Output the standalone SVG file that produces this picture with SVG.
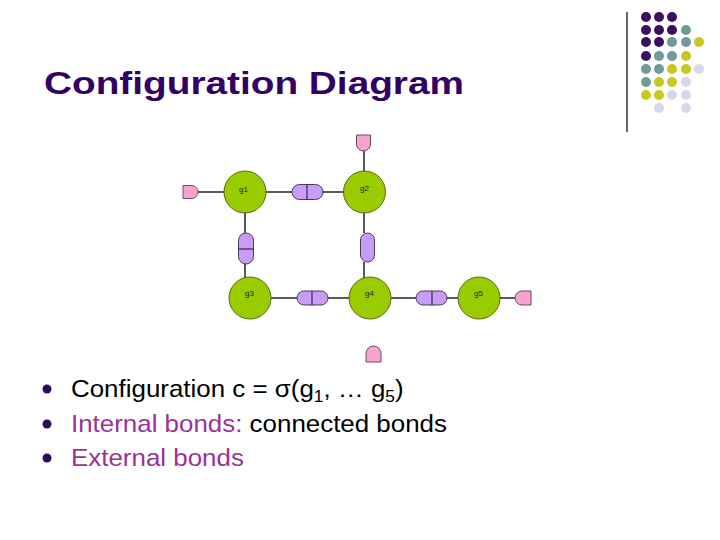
<svg xmlns="http://www.w3.org/2000/svg" width="720" height="540" viewBox="0 0 720 540">
<style>
.node{fill:#99cc00;stroke:#5a6a10;stroke-width:1}
.bond{fill:#c99cf7;stroke:#4a3a5a;stroke-width:1}
.ext{fill:#f7a3cf;stroke:#6a4a5a;stroke-width:1}
.lbl{font-family:"Liberation Sans",Arial,sans-serif;font-size:8px;fill:#222}
.conn line{stroke:#000;stroke-width:1.3}
.div{stroke:#3a2a4a;stroke-width:1.2}
.body{font-family:"Liberation Sans",Arial,sans-serif;font-size:24px;fill:#000}
.pur{fill:#993399}
.d1{fill:#3b1060}.d2{fill:#6e9a9a}.d3{fill:#c8c81e}.d4{fill:#d8d8ea}
</style>
<rect width="720" height="540" fill="#fff"/>
<g id="decor">
<line x1="627" y1="12" x2="627" y2="132" stroke="#000" stroke-width="1.2"/>
<g>
<circle class="d1" cx="646" cy="17" r="5"/><circle class="d1" cx="659" cy="17" r="5"/><circle class="d1" cx="672" cy="17" r="5"/>
<circle class="d1" cx="646" cy="30" r="5"/><circle class="d1" cx="659" cy="30" r="5"/><circle class="d1" cx="672" cy="30" r="5"/><circle class="d2" cx="686" cy="30" r="5"/>
<circle class="d1" cx="646" cy="42" r="5"/><circle class="d1" cx="659" cy="42" r="5"/><circle class="d2" cx="672" cy="42" r="5"/><circle class="d2" cx="686" cy="42" r="5"/><circle class="d3" cx="699" cy="42" r="5"/>
<circle class="d1" cx="646" cy="56" r="5"/><circle class="d2" cx="659" cy="56" r="5"/><circle class="d2" cx="672" cy="56" r="5"/><circle class="d3" cx="686" cy="56" r="5"/>
<circle class="d2" cx="646" cy="69" r="5"/><circle class="d2" cx="659" cy="69" r="5"/><circle class="d3" cx="672" cy="69" r="5"/><circle class="d3" cx="686" cy="69" r="5"/><circle class="d4" cx="699" cy="69" r="5"/>
<circle class="d2" cx="646" cy="82" r="5"/><circle class="d3" cx="659" cy="82" r="5"/><circle class="d3" cx="672" cy="82" r="5"/><circle class="d4" cx="686" cy="82" r="5"/>
<circle class="d3" cx="646" cy="95" r="5"/><circle class="d3" cx="659" cy="95" r="5"/><circle class="d4" cx="672" cy="95" r="5"/><circle class="d4" cx="686" cy="95" r="5"/>
<circle class="d4" cx="659" cy="108" r="5"/><circle class="d4" cx="686" cy="108" r="5"/>
</g>
</g>
<text id="title" x="44" y="94" font-family="'Liberation Sans',Arial,sans-serif" font-weight="bold" font-size="31" fill="#330066" textLength="420" lengthAdjust="spacingAndGlyphs">Configuration Diagram</text>
<g id="connectors" class="conn">
<line x1="198" y1="192" x2="224" y2="192"/>
<line x1="266" y1="192" x2="292" y2="192"/>
<line x1="323" y1="192" x2="344" y2="192"/>
<line x1="364" y1="151" x2="364" y2="172"/>
<line x1="245" y1="213" x2="245" y2="233"/>
<line x1="245" y1="264" x2="245" y2="278"/>
<line x1="364" y1="213" x2="364" y2="233"/>
<line x1="364" y1="262" x2="364" y2="278"/>
<line x1="271" y1="298" x2="297" y2="298"/>
<line x1="328" y1="298" x2="349" y2="298"/>
<line x1="391" y1="298" x2="416" y2="298"/>
<line x1="447" y1="298" x2="458" y2="298"/>
<line x1="500" y1="298" x2="515" y2="298"/>
</g>
<g id="bond12"><rect class="bond" x="292" y="184.5" width="31" height="15" rx="7.5"/><line class="div" x1="307" y1="184.5" x2="307" y2="199.5"/></g>
<g id="bond13"><rect class="bond" x="238.5" y="233" width="15" height="31" rx="7.5"/><line class="div" x1="238.5" y1="249" x2="253.5" y2="249" stroke-width="0.6"/></g>
<g id="bond24"><rect class="bond" x="360.5" y="233" width="14" height="29" rx="7"/></g>
<g id="bond34"><rect class="bond" x="297" y="291" width="31" height="14" rx="7"/><line class="div" x1="312" y1="291" x2="312" y2="305"/></g>
<g id="bond45"><rect class="bond" x="416" y="291" width="31" height="14" rx="7"/><line class="div" x1="432" y1="291" x2="432" y2="305"/></g>
<g id="ext1"><path class="ext" d="M183,185.5 H191.5 A6.5,6.5 0 0 1 191.5,198.5 H183 Z"/></g>
<g id="ext2"><path class="ext" d="M356.5,135 H370.5 V144 A7,7 0 0 1 356.5,144 Z"/></g>
<g id="ext5"><path class="ext" d="M531,291 H522 A7,7 0 0 0 522,305 H531 Z"/></g>
<g id="ext4"><path class="ext" d="M366,362 V353.5 A7.5,7.5 0 0 1 381,353.5 V362 Z"/></g>
<g id="g1"><circle class="node" cx="245" cy="192" r="21"/><text class="lbl" x="239" y="192">g1</text></g>
<g id="g2"><circle class="node" cx="364.5" cy="192" r="21"/><text class="lbl" x="360" y="191">g2</text></g>
<g id="g3"><circle class="node" cx="250" cy="298" r="21"/><text class="lbl" x="245" y="296">g3</text></g>
<g id="g4"><circle class="node" cx="370" cy="298" r="21"/><text class="lbl" x="365" y="296">g4</text></g>
<g id="g5"><circle class="node" cx="479" cy="298" r="21"/><text class="lbl" x="474" y="296">g5</text></g>
<g id="bullets">
<circle cx="47" cy="389" r="4.5" fill="#2e0a5a"/>
<circle cx="47" cy="424" r="4.5" fill="#2e0a5a"/>
<circle cx="47" cy="458" r="4.5" fill="#2e0a5a"/>
<g transform="matrix(1.08,0,0,1,-5.68,0)">
<text class="body" x="71" y="397">Configuration c = σ(g<tspan font-size="16" dy="5">1</tspan><tspan dy="-5">, … g</tspan><tspan font-size="16" dy="5">5</tspan><tspan dy="-5">)</tspan></text>
<text class="body" x="71" y="432"><tspan class="pur">Internal bonds:</tspan><tspan> connected bonds</tspan></text>
<text class="body" x="71" y="466"><tspan class="pur">External bonds</tspan></text>
</g>
</g>
</svg>
